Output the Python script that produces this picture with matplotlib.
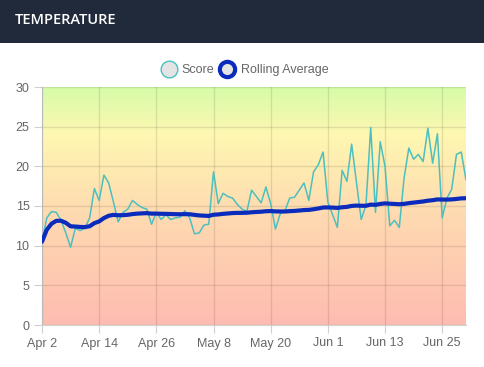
import matplotlib
matplotlib.use('Agg')
import matplotlib.pyplot as plt
import numpy as np
import pandas as pd
from matplotlib.colors import LinearSegmentedColormap
from matplotlib.lines import Line2D
from matplotlib.patches import Rectangle

# daily data, Apr 2 .. Jun 30
dates = pd.date_range('2023-04-02', periods=90, freq='D')
score = [10.5, 13.5, 14.3, 14.2, 13.2, 11.6, 9.8, 12.2, 11.9, 12.2,
         13.5, 17.2, 15.7, 18.9, 17.9, 15.5, 13.0, 14.2, 14.6, 15.7,
         15.2, 14.8, 14.6, 12.7, 14.2, 13.3, 13.9, 13.3, 13.5, 13.6,
         14.4, 13.5, 11.5, 11.6, 12.6, 12.7, 19.3, 15.3, 16.6, 16.2,
         16.0, 15.2, 14.6, 14.3, 17.0, 16.2, 15.4, 17.4, 15.3, 12.1,
         14.0, 14.4, 16.0, 16.1, 17.0, 17.9, 15.7, 19.3, 20.2, 21.8,
         15.5, 13.9, 12.3, 19.5, 18.1, 22.8, 18.0, 13.3, 15.1, 24.9,
         14.2, 23.1, 20.0, 12.5, 13.2, 12.3, 18.5, 22.3, 20.9, 21.5,
         20.6, 24.8, 20.4, 24.1, 13.5, 16.0, 17.1, 21.5, 21.8, 18.3]
rolling = [10.50, 12.00, 12.77, 13.13, 13.14, 12.88, 12.44, 12.41, 12.36, 12.34,
           12.45, 12.84, 13.06, 13.48, 13.77, 13.88, 13.83, 13.85, 13.89, 13.98,
           14.04, 14.07, 14.10, 14.04, 14.04, 14.02, 14.01, 13.99, 13.97, 13.96,
           13.97, 13.96, 13.88, 13.81, 13.78, 13.75, 13.90, 13.94, 14.01, 14.06,
           14.11, 14.13, 14.14, 14.15, 14.21, 14.25, 14.28, 14.34, 14.36, 14.32,
           14.31, 14.31, 14.35, 14.38, 14.43, 14.49, 14.51, 14.59, 14.69, 14.81,
           14.82, 14.80, 14.76, 14.84, 14.89, 15.01, 15.05, 15.03, 15.03, 15.17,
           15.15, 15.26, 15.33, 15.29, 15.26, 15.22, 15.27, 15.36, 15.43, 15.50,
           15.57, 15.67, 15.73, 15.83, 15.81, 15.81, 15.83, 15.89, 15.96, 15.98]
yticks = [0, 5, 10, 15, 20, 25, 30]
xtick_every = 12

plt.rcParams['font.family'] = ['Liberation Sans', 'DejaVu Sans']

fig = plt.figure(figsize=(4.85, 3.67), dpi=100)
fig.patch.set_facecolor('white')

# header bar
fig.add_artist(Rectangle((0, 1 - 43/367), 1, 43/367, transform=fig.transFigure,
                         facecolor='#212a3a', edgecolor='none', zorder=0))
fig.text(15/485, 1 - 20/367, 'TEMPERATURE', color='white', fontsize=10.5,
         family=['Open Sans', 'DejaVu Sans'], fontweight='semibold',
         va='center', ha='left')

ax = fig.add_axes([42/485, 1 - 325/367, 424/485, 238/367])

x = np.arange(len(dates))

# background gradient
cmap = LinearSegmentedColormap.from_list('bg', [
    (0.0, '#ffbcb2'), (0.45, '#fed9b0'), (0.8, '#fff7b2'), (1.0, '#d6fca8')])
grad = np.linspace(0, 1, 256).reshape(-1, 1)
ax.imshow(grad, cmap=cmap, origin='lower', aspect='auto',
          extent=[0, len(dates) - 1, 0, 30], zorder=0)

ax.plot(x, score, color='#4bc0c0', lw=1.1, zorder=3)
ax.plot(x, rolling, color='#0a2bbb', lw=3, zorder=4, solid_capstyle='round')

ax.set_xlim(0, len(dates) - 1)
ax.set_ylim(0, 30)
ax.set_yticks(yticks)
tick_pos = x[::xtick_every]
ax.set_xticks(tick_pos)
ax.set_xticklabels([d.strftime('%b ') + str(d.day) for d in dates[::xtick_every]])

ax.grid(True, color='black', alpha=0.1, lw=1)
ax.set_axisbelow(False)
for s in ['top', 'right']:
    ax.spines[s].set_visible(False)
for s in ['left', 'bottom']:
    ax.spines[s].set_color('#d0d0d0')
ax.tick_params(colors='#d0d0d0', labelcolor='#666666', labelsize=9, length=6, pad=3)

handles = [
    Line2D([], [], marker='o', ls='', markersize=12, markerfacecolor='#e4e4e4',
           markeredgecolor='#4bc0c0', markeredgewidth=1),
    Line2D([], [], marker='o', ls='', markersize=11, markerfacecolor='#e4e4e4',
           markeredgecolor='#0a2bbb', markeredgewidth=3),
]
leg = fig.legend(handles, ['Score', 'Rolling Average'], loc='center',
                 bbox_to_anchor=(0.5, 1 - 70/367), ncol=2, frameon=False, fontsize=9,
                 handletextpad=0.1, columnspacing=0.1, handlelength=1.9)
for t in leg.get_texts():
    t.set_color('#666666')

plt.savefig('out.png', dpi=100)
